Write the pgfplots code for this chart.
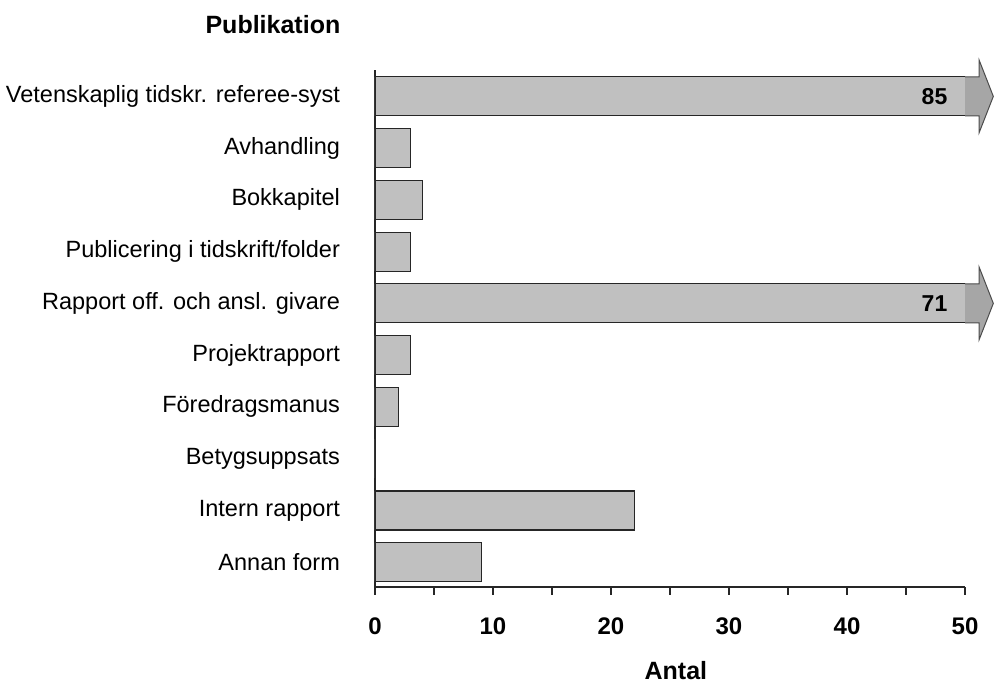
\documentclass[border=0pt]{standalone}
\usepackage{fontspec}
\setmainfont{Liberation Sans}
\usepackage{pgfplots}
\pgfplotsset{compat=1.18}
\definecolor{barfill}{HTML}{C0C0C0}
\definecolor{arrowfill}{HTML}{A6A6A6}
\begin{document}
\begin{tikzpicture}
\useasboundingbox (-187.5pt,-48pt) rectangle (309.5pt,293.5pt);
\begin{axis}[
  at={(0,0)}, anchor=south west,
  scale only axis,
  width=295pt, height=258.5pt,
  xbar,
  bar width=19.5pt,
  xmin=0, xmax=50,
  ymin=-0.48, ymax=9.51,
  clip mode=individual,
  axis x line=bottom,
  axis y line=left,
  axis line style={-, black!85, line width=0.6pt},
  xtick={0,10,20,30,40,50},
  minor xtick={5,15,25,35,45},
  xtick align=outside,
  major tick length=4pt,
  minor tick length=4pt,
  every tick/.style={black!85, line width=0.6pt},
  ytick={0,...,9},
  yticklabels={Annan form,Intern rapport,Betygsuppsats,Föredragsmanus,Projektrapport,Rapport off. och ansl. givare,Publicering i tidskrift/folder,Bokkapitel,Avhandling,Vetenskaplig tidskr. referee-syst},
  ytick style={draw=none},
  yticklabel style={anchor=east, xshift=-12pt, font=\fontsize{11.75}{14}\selectfont},
  xticklabel style={anchor=center, yshift=-15.5pt, font=\fontsize{12}{14}\selectfont\bfseries},
  /pgf/number format/assume math mode=true,
  xlabel={Antal},
  xlabel style={at={(axis description cs:0.51,0)}, anchor=center, yshift=-42pt, font=\fontsize{12.5}{14}\selectfont\bfseries},
  title={Publikation},
  title style={at={(axis description cs:-0.173,1.064)}, anchor=center, font=\fontsize{12.5}{14}\selectfont\bfseries},
]
\addplot[fill=barfill, draw=black!85, line width=0.6pt] coordinates {
  (9,0) (22,1) (0,2) (2,3) (3,4) (71,5) (3,6) (4,7) (3,8) (85,9)
};
% arrows for bars running past the axis
\filldraw[fill=arrowfill, draw=black!70, line width=0.5pt]
  (axis cs:50,8.623) -- (axis cs:51.2,8.623) -- (axis cs:51.2,8.30)
  -- (axis cs:52.4,9) -- (axis cs:51.2,9.70) -- (axis cs:51.2,9.377)
  -- (axis cs:50,9.377);
\filldraw[fill=arrowfill, draw=black!70, line width=0.5pt]
  (axis cs:50,4.623) -- (axis cs:51.2,4.623) -- (axis cs:51.2,4.30)
  -- (axis cs:52.4,5) -- (axis cs:51.2,5.70) -- (axis cs:51.2,5.377)
  -- (axis cs:50,5.377);
\node[anchor=east, font=\fontsize{11.5}{13}\selectfont\bfseries] at (axis cs:49.1,9) {85};
\node[anchor=east, font=\fontsize{11.5}{13}\selectfont\bfseries] at (axis cs:49.1,5) {71};
\end{axis}
\end{tikzpicture}
\end{document}
